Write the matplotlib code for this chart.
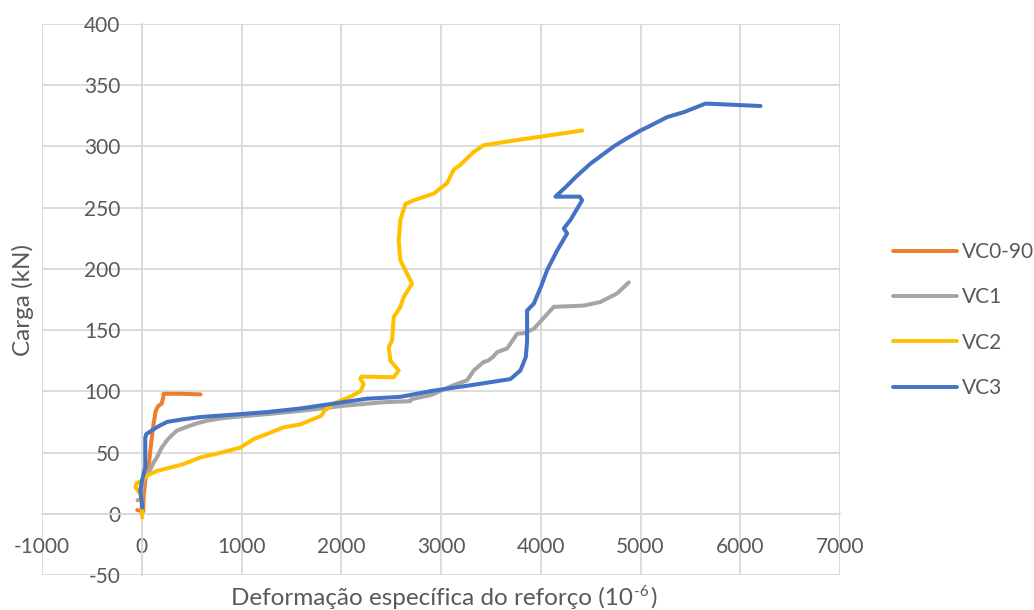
import matplotlib
matplotlib.use("Agg")
import matplotlib.pyplot as plt

# ---- data ----
vc090_x = [-45, 15, 20, 40, 70, 95, 118, 140, 165, 200, 215, 220, 400, 590]
vc090_y = [3, 2, 15, 30, 40, 58, 73, 84, 88, 90, 95, 98, 98, 97.5]

vc1_x = [-42, -10, 0, 20, 50, 85, 120, 152, 200, 253, 300, 353, 420, 486, 560, 654, 800, 921,
         1200, 1590, 2000, 2400, 2693, 2700, 2900, 3125, 3262, 3328, 3428, 3470, 3520, 3563,
         3663, 3763, 3830, 3930, 4130, 4431, 4599, 4766, 4883]
vc1_y = [11, 12, 20, 28, 32, 36, 42, 46, 54, 60, 64, 68, 70, 72, 74, 76, 78, 79,
         81, 84, 88, 91, 92, 93.5, 97, 105, 109, 117, 124, 125, 128, 132,
         135, 147, 147.5, 151, 169, 170, 173, 180, 189]

vc2_x = [5, 0, -5, -65, -50, 2, 52, 152, 300, 419, 587, 800, 988, 1121, 1250, 1422, 1590,
         1723, 1800, 1830, 1924, 2100, 2192, 2225, 2192, 2200, 2526, 2576, 2493, 2476, 2509,
         2526, 2593, 2626, 2710, 2660, 2593, 2576, 2593, 2643, 2726, 2927, 3061, 3127, 3194,
         3328, 3428, 3663, 3997, 4415]
vc2_y = [-3, 5, 15, 22, 25, 27, 31, 35, 38, 40.6, 46, 50, 54, 61, 65, 70.6, 73,
         77.5, 80, 84, 90, 96, 100, 106, 110, 112, 111.5, 117, 125, 136, 141.5,
         160.6, 169, 177, 188, 196, 207, 223, 240, 253, 256, 261.5, 270, 281, 285,
         295.5, 301, 304, 308, 313]

vc3_x = [5, 0, -15, 2, 35, 35, 45, 118, 180, 253, 400, 587, 921, 1250, 1590, 1924, 2259,
         2593, 2927, 3300, 3696, 3796, 3850, 3863, 3863, 3930, 4000, 4064, 4164, 4265, 4231,
         4298, 4415, 4390, 4147, 4200, 4265, 4350, 4499, 4599, 4732, 4850, 5000, 5100, 5268,
         5434, 5652, 5800, 6204]
vc3_y = [5, 10, 19, 27, 38, 62, 65, 69, 72, 75, 77, 79, 81, 83, 86, 90, 94,
         95.5, 100.6, 105, 110, 117, 128, 141, 166, 171.5, 185, 199, 215, 229, 233,
         240, 256, 259, 259, 263, 268, 275, 286, 292, 300, 306, 313, 317, 324,
         328, 335, 334.5, 333]

series_names = ["VC0-90", "VC1", "VC2", "VC3"]
colors = ["#ED7D31", "#A5A5A5", "#FFC000", "#4472C4"]
x_ticks = [-1000, 0, 1000, 2000, 3000, 4000, 5000, 6000, 7000]
y_ticks = [-50, 0, 50, 100, 150, 200, 250, 300, 350, 400]

plt.rcParams['font.family'] = ['Lato', 'DejaVu Sans']
plt.rcParams['axes.unicode_minus'] = False

fig = plt.figure(figsize=(10.34, 6.10), dpi=100)
ax = fig.add_axes([42 / 1034, 1 - 575 / 610, (840 - 42) / 1034, (575 - 24) / 610])

txt = "#595959"
grid_c = "#D9D9D9"

data = [(vc090_x, vc090_y), (vc1_x, vc1_y), (vc2_x, vc2_y), (vc3_x, vc3_y)]
for (xs, ys), name, c in zip(data, series_names, colors):
    ax.plot(xs, ys, color=c, lw=2.9, label=name, solid_capstyle='round',
            solid_joinstyle='round', zorder=3)

ax.set_xlim(-1000, 7000)
ax.set_ylim(-50, 400)
ax.set_xticks(x_ticks)
ax.set_yticks(y_ticks)
ax.grid(True, color=grid_c, lw=1.3, zorder=0)
ax.set_axisbelow(True)

for s in ['top', 'right']:
    ax.spines[s].set_visible(False)
ax.spines['left'].set_position(('data', 0))
ax.spines['bottom'].set_position(('data', 0))
ax.spines['left'].set_color(grid_c)
ax.spines['bottom'].set_color(grid_c)
ax.spines['left'].set_linewidth(1.3)
ax.spines['bottom'].set_linewidth(1.3)

ax.tick_params(axis='both', length=0, labelsize=15, colors=txt)
ax.tick_params(axis='y', pad=15.5)
ax.tick_params(axis='x', pad=16.5)

fig.text(23 / 1034, 1 - 300 / 610, "Carga (kN)", rotation=90, ha='center', va='center',
         fontsize=17.5, color=txt)
fig.text(633 / 1034, 1 - 598 / 610, "Deformação específica do reforço (10", ha='right',
         va='center', fontsize=17.5, color=txt)
fig.text(634 / 1034, 1 - 592 / 610, "-6", ha='left', va='center', fontsize=11, color=txt)
fig.text(650 / 1034, 1 - 598 / 610, ")", ha='left', va='center', fontsize=17.5, color=txt)

leg = fig.legend(loc='upper left', bbox_to_anchor=(874.3 / 1034, 1 - 223.5 / 610), frameon=False,
                 fontsize=15, handlelength=3.08, labelspacing=1.21, handletextpad=0.24)
for t in leg.get_texts():
    t.set_color(txt)
for h in leg.get_lines():
    h.set_linewidth(2.8)

fig.savefig("out.png", dpi=100)
